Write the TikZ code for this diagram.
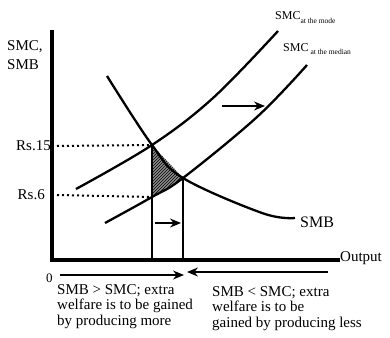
\documentclass[tikz,border=0pt]{standalone}
\usepackage{fontspec}
\setmainfont{Liberation Serif}
\usepackage{tikz}
\usetikzlibrary{arrows.meta,patterns}

\tikzset{
  axis/.style={line width=3.3pt},
  curve/.style={line width=2.3pt},
  drop/.style={line width=2.6pt},
  guide/.style={line width=2pt, dash pattern=on 2pt off 3pt},
  moveto/.style={line width=1.3pt, -{Stealth[length=11pt,width=9pt]}},
  lbl/.style={inner sep=0pt, font=\fontsize{15}{16}\selectfont},
  note/.style={inner sep=0pt, align=left, font=\fontsize{15}{15.5}\selectfont},
}

\begin{document}
\begin{tikzpicture}[x=1pt,y=-1pt]
\useasboundingbox (0,0) rectangle (390,337);
% Key points
\coordinate (O) at (52,260);
\coordinate (ytop) at (52,30);
\coordinate (xend) at (340,260);
\coordinate (E1) at (152,145);
\coordinate (E2) at (183,178);
\coordinate (L1) at (152,197);
% Welfare loss
\fill[black!45] (E1) -- (E2) -- (L1) -- cycle;
\fill[pattern=north east lines] (E1) -- (E2) -- (L1) -- cycle;
% Axes
\draw[axis] (ytop) -- (O) -- (xend);
\node[lbl, anchor=base west] (yl1) at (7,50) {SMC,};
\node[lbl, anchor=base west] (yl2) at (7,69) {SMB};
\node[lbl, anchor=base west] (xl) at (340,261) {Output};
\node[lbl, anchor=base west, font=\fontsize{13}{13}\selectfont] (zero) at (46,282) {0};
% Prices
\node[lbl, anchor=east] (p15) at (51,146) {Rs.15};
\node[lbl, anchor=east] (p6) at (45,195) {Rs.6};
\draw[guide] (p15.east) ++(6,0) -- (E1);
\draw[guide] (p6.east) ++(12,0) -- (L1);
% Quantities
\draw[drop] (E1) -- (E1 |- O);
\draw[drop] (E2) -- (E2 |- O);
% SMB
\draw[curve] plot[smooth, tension=0.6] coordinates
  {(107,76) (E1) (E2) (262,213) (295,218)};
\node[lbl, anchor=base west, font=\fontsize{16}{16}\selectfont] (smb) at (300,227) {SMB};
% SMC at the mode
\draw[curve] plot[smooth, tension=0.6] coordinates
  {(76,189) (E1) (213,98) (278,31)};
\node[lbl, anchor=base west, font=\fontsize{12}{12}\selectfont] (smc1) at (275,20)
  {SMC\raisebox{-4pt}{\fontsize{7.5}{8}\selectfont at the mode}};
% SMC at the median
\draw[curve] plot[smooth, tension=0.6] coordinates
  {(105,223) (L1) (E2) (257,117) (307,65)};
\node[lbl, anchor=base west, font=\fontsize{12}{12}\selectfont] (smc2) at (283,52)
  {SMC\,\raisebox{-2pt}{\fontsize{7.5}{8}\selectfont at the median}};
% Shifts
\coordinate (s1) at (222,106);
\coordinate (s2) at (265,106);
\draw[moveto] (s1) -- (s2);
\coordinate (q1) at (155,223);
\coordinate (q2) at (181,223);
\draw[moveto] (q1) -- (q2);
% Directions
\coordinate (m1) at (60,275);
\coordinate (m2) at (184,275);
\draw[moveto] (m1) -- (m2);
\coordinate (n1) at (328,272);
\coordinate (n2) at (187,272);
\draw[moveto] (n1) -- (n2);
\node[note, anchor=north west] (more) at (57,284)
  {SMB > SMC; extra\\welfare is to be gained\\by producing more};
\node[note, anchor=north west] (less) at (212,286)
  {SMB < SMC; extra\\welfare is to be\\gained by producing less};
\end{tikzpicture}
\end{document}
